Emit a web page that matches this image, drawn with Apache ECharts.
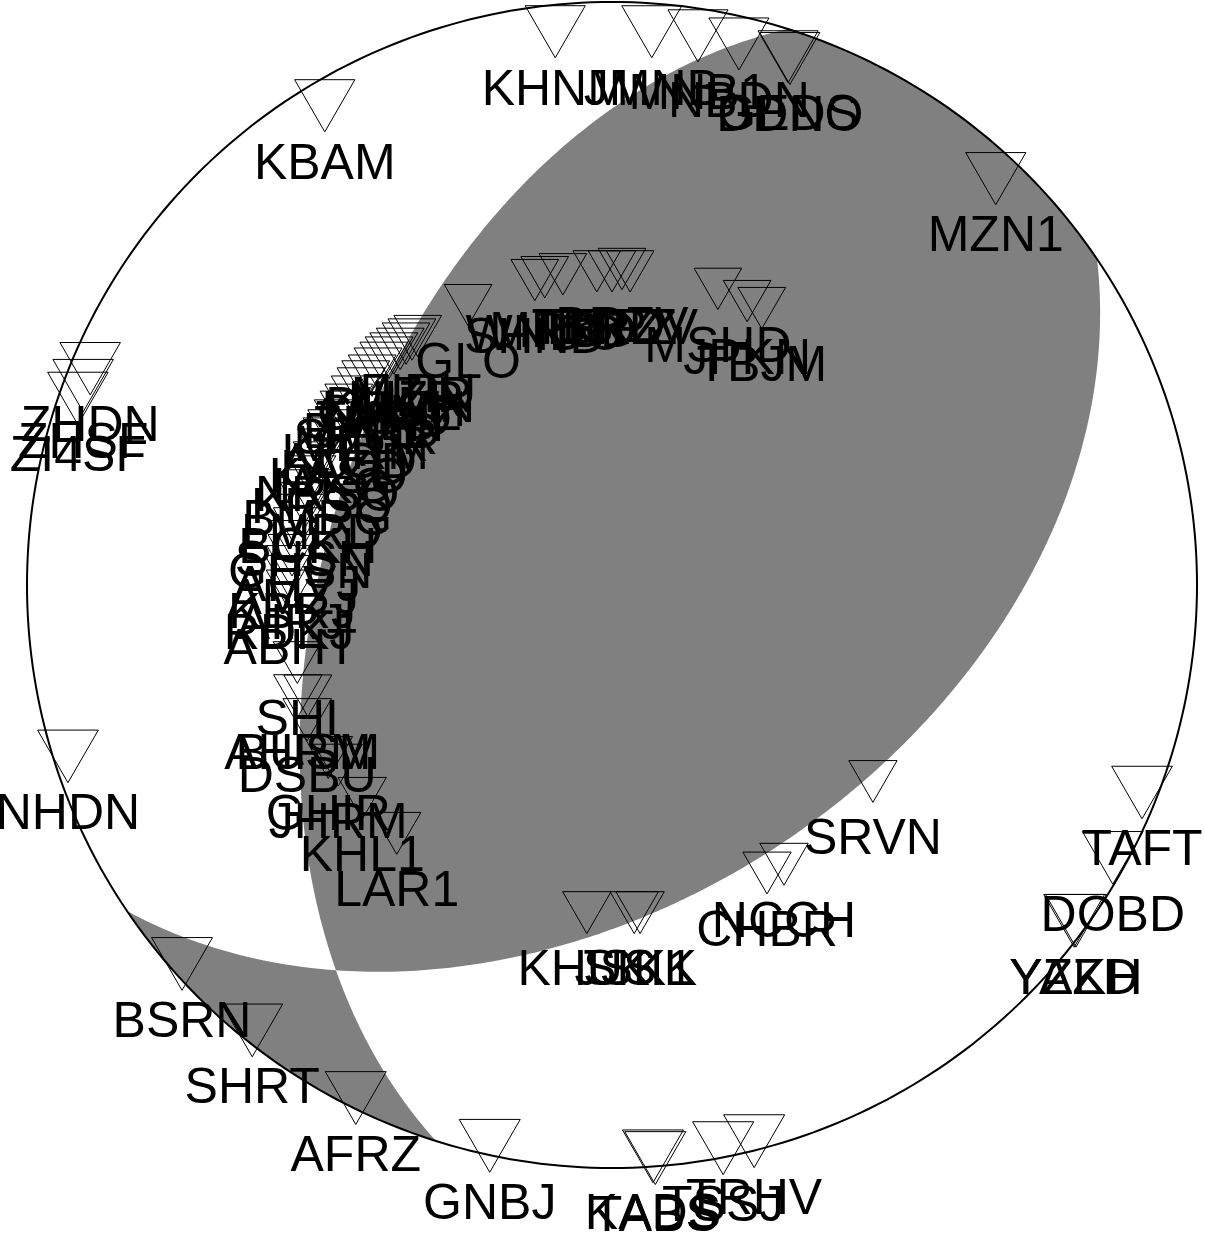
<!DOCTYPE html>
<html>
<head>
<meta charset="utf-8">
<script src="https://cdn.jsdelivr.net/npm/echarts@6/dist/echarts.min.js"></script>
<style>
html,body{margin:0;padding:0;background:#fff;}
#chart{width:1205px;height:1237px;}
</style>
</head>
<body>
<div id="chart"></div>
<script>
// Nodal planes (strike, dip in degrees) of the focal mechanism
const planeStrike = [56, 197.5];
const planeDip = [46, 49.5];

// Stations: name, projected east / north position (units of the focal sphere radius)
const stationNames = [
  "KHNM","JMNB","MNB1","NBDN","GEDS","DDNO","KBAM","MZN1",
  "ZHDN","ZHSF","ZI4SF","NHDN","BSRN","SHRT","AFRZ","GNBJ",
  "TABS","KADS","TSSJ","TRHV","TAFT","DOBD","YAZD","YZKH",
  "SRVN","NCCH","CHBR","KHUS","JSK1","SKIK",
  "GLO","SHND","WNDO","MRBD","TBRZ","ESPZ","BRZV","TRDV","MSHD","JPKN","TBJM",
  "SHI","AHRM","BUSM","DSBU","GHIR","JHRM","KHL1","LAR1",
  "FIRU","MZIR","NIZR","DHMN","KMSH","CHMZ","TKRD","ZRTN","BVRD","SHGR",
  "MLYR","KHRM","ALGD","LAZD","KASO","IAKG","NRSO","KRSQ","BMRG","LMRD",
  "BCKH","SHSN","GHSN","AHVJ","AMZJ","KBRJ","AIRJ","RDKJ","ABHT"
];
const stationEast = [
  -0.097,0.068,0.147,0.217,0.301,0.304,-0.491,0.656,
  -0.892,-0.904,-0.913,-0.930,-0.735,-0.615,-0.438,-0.209,
  0.074,0.070,0.190,0.243,0.906,0.856,0.790,0.793,
  0.446,0.294,0.265,-0.043,0.038,0.048,
  -0.246,-0.132,-0.115,-0.084,-0.026,0.000,0.017,0.031,0.181,0.231,0.256,
  -0.538,-0.537,-0.520,-0.521,-0.485,-0.468,-0.427,-0.368,
  -0.332,-0.342,-0.352,-0.362,-0.373,-0.381,-0.390,-0.400,-0.410,-0.421,
  -0.429,-0.439,-0.450,-0.458,-0.468,-0.479,-0.487,-0.496,-0.504,-0.513,
  -0.520,-0.526,-0.533,-0.538,-0.544,-0.547,-0.549,-0.552,-0.550
];
const stationNorth = [
  0.949,0.949,0.942,0.928,0.906,0.903,0.822,0.697,
  0.371,0.342,0.320,-0.294,-0.650,-0.764,-0.880,-0.962,
  -0.983,-0.980,-0.966,-0.954,-0.356,-0.468,-0.576,-0.576,
  -0.337,-0.479,-0.494,-0.562,-0.562,-0.562,
  0.480,0.523,0.528,0.533,0.538,0.538,0.542,0.538,0.508,0.487,0.475,
  -0.133,-0.190,-0.190,-0.231,-0.296,-0.309,-0.366,-0.426,
  0.427,0.421,0.414,0.405,0.397,0.390,0.381,0.371,0.359,0.349,
  0.337,0.323,0.309,0.297,0.282,0.265,0.251,0.232,0.210,0.186,
  0.162,0.140,0.120,0.097,0.075,0.051,0.032,0.015,-0.010
];

const D2R = Math.PI / 180;
function eqArea(trend, plunge) {
  const r = Math.SQRT2 * Math.sin((90 - plunge) / 2 * D2R);
  return [r * Math.sin(trend * D2R), r * Math.cos(trend * D2R)];
}
function plungeOn(i, az) {
  return Math.atan(Math.tan(planeDip[i] * D2R) * Math.sin((az - planeStrike[i]) * D2R)) / D2R;
}
function planeArc(i, a0, a1) {
  const pts = [], n = 240;
  for (let k = 0; k <= n; k++) {
    const az = a0 + (a1 - a0) * k / n;
    pts.push(eqArea(az, Math.max(0, plungeOn(i, az))));
  }
  return pts;
}
function rimArc(a0, a1, n) {
  const pts = [];
  n = n || 120;
  for (let k = 0; k <= n; k++) pts.push(eqArea(a0 + (a1 - a0) * k / n, 0));
  return pts;
}
function cross(a, b) {
  return [a[1]*b[2]-a[2]*b[1], a[2]*b[0]-a[0]*b[2], a[0]*b[1]-a[1]*b[0]];
}
function planeNormal(i) {
  const s = planeStrike[i] * D2R, d = planeDip[i] * D2R;
  const sv = [Math.cos(s), Math.sin(s), 0];
  const dv = [Math.cos(d) * Math.cos(s + Math.PI / 2), Math.cos(d) * Math.sin(s + Math.PI / 2), Math.sin(d)];
  return cross(sv, dv);
}
let nullAxis = cross(planeNormal(0), planeNormal(1));
if (nullAxis[2] < 0) nullAxis = nullAxis.map(v => -v);
const nullTrend = (Math.atan2(nullAxis[1], nullAxis[0]) / D2R + 360) % 360;

const sA = planeStrike[0], sB = planeStrike[1];
const region1 = planeArc(1, nullTrend, sB + 180)
  .concat(rimArc(sB + 180, sA + 360))
  .concat(planeArc(0, sA, nullTrend));
const region2 = planeArc(0, sA + 180, nullTrend)
  .concat(planeArc(1, nullTrend, sB))
  .concat(rimArc(sB, sA + 180));
const rim = rimArc(0, 360, 360);

const stationData = stationNames.map((n, i) => [stationEast[i], stationNorth[i]]);
const LABEL_FONT = '50px "Liberation Sans", Arial, Helvetica, sans-serif';

const chart = echarts.init(document.getElementById('chart'), null, { renderer: 'canvas' });
chart.setOption({
  animation: false,
  backgroundColor: '#ffffff',
  grid: { left: 27, top: 2, width: 1170, height: 1166 },
  xAxis: { type: 'value', min: -1, max: 1, show: false },
  yAxis: { type: 'value', min: -1, max: 1, show: false },
  series: [
    {
      type: 'custom',
      coordinateSystem: 'cartesian2d',
      silent: true,
      z: 1,
      data: [[0, 0]],
      renderItem: function (params, api) {
        const px = p => api.coord(p);
        return {
          type: 'group',
          children: [
            { type: 'polygon', shape: { points: region1.map(px) }, style: { fill: '#808080', stroke: null } },
            { type: 'polygon', shape: { points: region2.map(px) }, style: { fill: '#808080', stroke: null } },
            { type: 'polyline', shape: { points: rim.map(px) }, style: { fill: null, stroke: '#000', lineWidth: 2 } }
          ]
        };
      }
    },
    {
      type: 'custom',
      coordinateSystem: 'cartesian2d',
      silent: true,
      z: 3,
      data: stationData,
      renderItem: function (params, api) {
        const e = api.value(0), n = api.value(1);
        const c = api.coord([e, n]);
        const r = Math.sqrt(e * e + n * n);
        const w = Math.max(47, 48 + (r - 0.55) * 30);
        const h = w * 0.866;
        return {
          type: 'group',
          children: [
            {
              type: 'polygon',
              shape: { points: [[c[0] - w / 2, c[1] - h / 2], [c[0] + w / 2, c[1] - h / 2], [c[0], c[1] + h / 2]] },
              style: { fill: null, stroke: '#000', lineWidth: 1 }
            },
            {
              type: 'text',
              style: {
                text: stationNames[params.dataIndex],
                x: c[0], y: c[1] + 59,
                align: 'center', verticalAlign: 'middle',
                font: LABEL_FONT, fill: '#000'
              }
            }
          ]
        };
      }
    }
  ]
});
</script>
</body>
</html>
